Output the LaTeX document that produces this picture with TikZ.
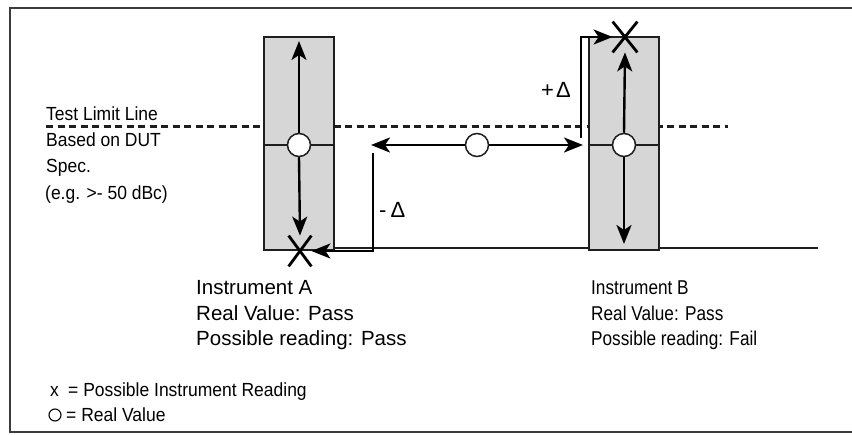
\documentclass[tikz,border=0pt]{standalone}
\usepackage{fontspec}
\setmainfont{Liberation Sans}
\newfontfamily\narrowL[FakeStretch=0.92]{Liberation Sans}
\newfontfamily\narrowB[FakeStretch=0.86]{Liberation Sans}
\usetikzlibrary{arrows.meta,shapes.misc}
\definecolor{boxfill}{RGB}{214,214,214}
\definecolor{frameclr}{RGB}{60,60,60}
\definecolor{lineclr}{RGB}{30,30,30}
\begin{document}
\begin{tikzpicture}[x=1pt,y=-1pt,
  instbox/.style={draw=lineclr, line width=1.8pt, fill=boxfill, minimum width=70pt, minimum height=213pt, inner sep=0pt},
  realval/.style={circle, draw=lineclr, line width=1.5pt, fill=white, minimum size=23pt, inner sep=0pt},
  reading/.style={cross out, draw=black, line width=2.8pt, minimum width=20pt, minimum height=28pt, inner sep=0pt},
  tipst/.style={-{Stealth[length=19pt,width=15pt,inset=5pt]}},
  arr/.style={line width=2.4pt, tipst},
  deltapath/.style={line width=2.2pt, tipst},
  limitline/.style={dash pattern=on 7pt off 4.5pt, line width=3pt, draw=lineclr},
  baseln/.style={line width=1.8pt, draw=lineclr},
  lbl/.style={font=\narrowL\fontsize{19}{22}\selectfont, anchor=base west, inner sep=0pt},
  lblA/.style={font=\fontsize{20.5}{24}\selectfont, anchor=base west, inner sep=0pt},
  lblB/.style={font=\narrowB\fontsize{20}{24}\selectfont, anchor=base west, inner sep=0pt},
  dlbl/.style={font=\fontsize{22}{26}\selectfont, anchor=base west, inner sep=0pt}
]
\useasboundingbox (0,0) rectangle (852,435);
% frame
\draw[frameclr, line width=2pt] (852,8.5) -- (10,8.5) -- (10,432.5) -- (852,432.5);

% limit line
\coordinate (limL) at (46,127);
\coordinate (limR) at (728,127);
\draw[limitline] (limL) -- (limR);

% boxes and base line
\node[instbox] (boxA) at (299,143.5) {};
\node[instbox] (boxB) at (624,143.5) {};
\coordinate (baseEnd) at (818,248);
\draw[baseln] (boxA.east |- baseEnd) -- (boxB.west |- baseEnd);
\draw[baseln] (boxB.east |- baseEnd) -- (baseEnd);

% circles (real values)
\coordinate (cApos) at (299,145);
\coordinate (cBpos) at (624,145);
\draw[lineclr, line width=1.8pt] (boxA.west |- cApos) -- (boxA.east |- cApos);
\draw[lineclr, line width=1.8pt] (boxB.west |- cBpos) -- (boxB.east |- cBpos);
\node[realval] (cA) at (cApos) {};
\node[realval] (cB) at (cBpos) {};
\node[realval] (cM) at (477,145) {};

% readings
\node[reading] (xA) at (300,251) {};
\node[reading, minimum width=22pt] (xB) at (625,37) {};

% arrows inside boxes
\coordinate (topA) at (299,41);
\coordinate (botB) at (624,244);
\draw[arr] (cA.north) -- (topA);
\draw[arr] (cA.south) -- (xA.north);
\draw[arr] (cB.north) -- (xB.south);
\draw[arr] (cB.south) -- (botB);

% middle double arrow
\coordinate (midL) at (371,145);
\coordinate (midR) at (583,145);
\draw[arr] (cM.west) -- (midL);
\draw[arr] (cM.east) -- (midR);

% delta paths
\coordinate (minusTop) at (373,153);
\coordinate (plusBot) at (581,138);
\draw[deltapath] (minusTop) |- (xA.east);
\draw[deltapath] (plusBot) |- (xB.west);
\node[dlbl] (minusLbl) at (379,218) {-\hspace{4pt}Δ};
\node[dlbl] (plusLbl) at (541,98) {+\hspace{2pt}Δ};

% left text
\node[lbl] (t1) at (46,121) {Test Limit Line};
\node[lbl] (t2) at (46,147) {Based on DUT};
\node[lbl] (t3) at (46,173) {Spec.};
\node[lbl] (t4) at (45,200) {(e.g. >- 50 dBc)};

% instrument texts
\node[lblA] (a1) at (196,295) {Instrument A};
\node[lblA] (a2) at (196,321) {Real Value: Pass};
\node[lblA] (a3) at (196,346) {Possible reading: Pass};
\node[lblB] (b1) at (591,295) {Instrument B};
\node[lblB] (b2) at (591,321) {Real Value: Pass};
\node[lblB] (b3) at (591,346) {Possible reading: Fail};

% legend
\node[lbl] (lx) at (50,397) {x};
\node[lbl] (lxt) at (68,397) {= Possible Instrument Reading};
\node[circle, draw=black, line width=1.1pt, minimum size=12pt, inner sep=0pt] (lc) at (55,415) {};
\node[lbl] (lct) at (66,422) {= Real Value};
\end{tikzpicture}
\end{document}
